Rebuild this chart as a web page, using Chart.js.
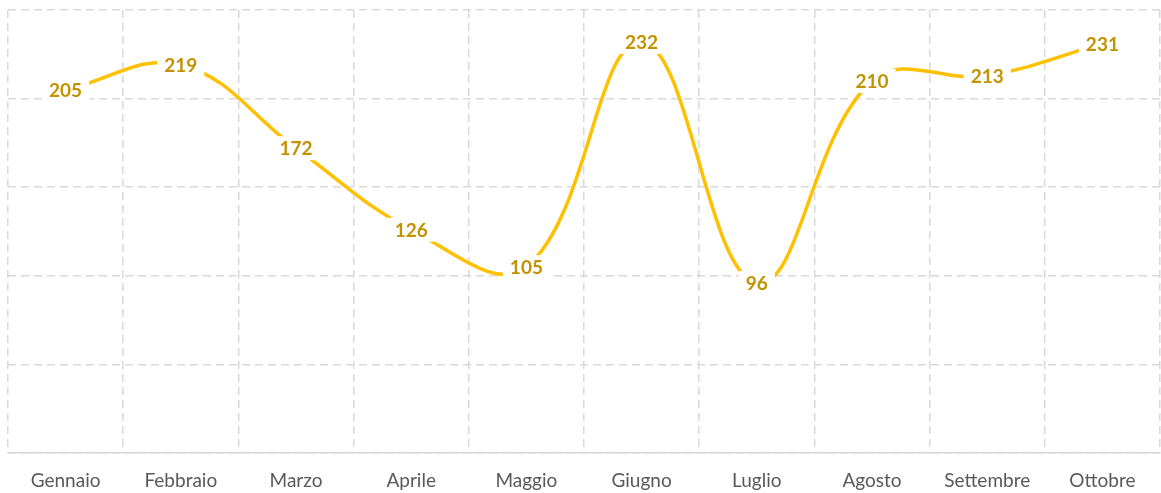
<!DOCTYPE html>
<html>
<head>
<meta charset="utf-8">
<script src="https://cdn.jsdelivr.net/npm/chart.js@4"></script>
<style>
  html, body { margin: 0; padding: 0; background: #fff; }
  #wrap { width: 1161px; height: 493px; }
</style>
</head>
<body>
<div id="wrap"><canvas id="chart" width="1161" height="493"></canvas></div>
<script>
"use strict";

// ── data ─────────────────────────────────────────────────────────────────────
const MONTHS = ["Gennaio", "Febbraio", "Marzo", "Aprile", "Maggio",
                "Giugno", "Luglio", "Agosto", "Settembre", "Ottobre"];
const VALUES = [205, 219, 172, 126, 105, 232, 96, 210, 213, 231];
const Y_MIN = 0, Y_MAX = 250, Y_STEP = 50;

const LINE_COLOR  = "#FFC000";
const LABEL_COLOR = "#C39200";
const GRID_COLOR  = "#d9d9d9";
const FONT = "Lato, 'Open Sans', sans-serif";

// ── inline data label plugin (white box behind the value) ────────────────────
const valueLabels = {
  id: "valueLabels",
  afterDatasetsDraw(chart) {
    const ctx = chart.ctx;
    const meta = chart.getDatasetMeta(0);
    ctx.save();
    ctx.font = "bold 19px " + FONT;
    ctx.textAlign = "center";
    ctx.textBaseline = "middle";
    meta.data.forEach((pt, i) => {
      const txt = String(VALUES[i]);
      const w = ctx.measureText(txt).width;
      ctx.fillStyle = "#fff";
      ctx.fillRect(pt.x - w / 2 - 7, pt.y - 12, w + 14, 24);
      ctx.fillStyle = LABEL_COLOR;
      ctx.fillText(txt, pt.x, pt.y + 1);
    });
    ctx.restore();
  },
};

new Chart(document.getElementById("chart"), {
  type: "line",
  data: {
    labels: MONTHS,
    datasets: [{
      data: VALUES,
      borderColor: LINE_COLOR,
      borderWidth: 3.5,
      pointRadius: 0,
      tension: 0.4,
      fill: false,
    }],
  },
  options: {
    responsive: false,
    animation: false,
    layout: { padding: { left: 8, top: 10, right: 1, bottom: 0 } },
    plugins: { legend: { display: false }, tooltip: { enabled: false } },
    scales: {
      x: {
        offset: true,
        grid: {
          offset: true,
          color: GRID_COLOR,
          lineWidth: 1.5,
          drawTicks: false,
        },
        border: { display: true, color: GRID_COLOR, width: 1.5, dash: [8, 5] },
        ticks: {
          color: "#595959",
          font: { family: FONT, size: 19 },
          padding: 16,
          maxRotation: 0,
        },
        afterFit(scale) { scale.height = 40; },
      },
      y: {
        min: Y_MIN,
        max: Y_MAX,
        ticks: { display: false, stepSize: Y_STEP },
        grid: { color: GRID_COLOR, lineWidth: 1.5, drawTicks: false },
        border: { display: false, dash: [8, 5] },
        afterFit(scale) { scale.width = 0; },
      },
    },
  },
  plugins: [valueLabels],
});
</script>
</body>
</html>
